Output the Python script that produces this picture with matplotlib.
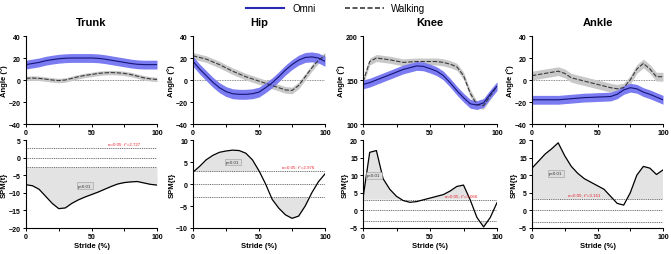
import numpy as np
import matplotlib.pyplot as plt

plt.rcParams['font.family'] = ['Liberation Sans', 'DejaVu Sans']

joints = ['Trunk', 'Hip', 'Knee', 'Ankle']
stride = [0, 5, 10, 15, 20, 25, 30, 35, 40, 45, 50, 55, 60, 65, 70, 75, 80, 85, 90, 95, 100]

# joint angles (deg), mean and band half-width
omni = {
    'Trunk': [14, 15, 16, 17.5, 18.5, 19.3, 19.8, 20, 20, 20, 20, 19.7, 19, 18, 17, 16, 15, 14.3, 14, 14, 14],
    'Hip': [17, 10, 4, -2, -7, -10.5, -12.5, -13, -13, -12.5, -11, -7, -2.5, 3, 9, 14, 18, 20.5, 21, 20, 17],
    'Knee': [145, 147, 150, 153, 156, 159, 162, 164, 166, 165.5, 163, 160, 155, 147, 138, 130, 123, 121.5, 124, 134, 143],
    'Ankle': [-18, -18, -18, -18, -18, -17.5, -17, -16.5, -16, -15.8, -15.5, -15.3, -15, -13, -9, -7, -8, -11, -13, -15.5, -18],
}
omni_sd = {'Trunk': 4, 'Hip': 4.5, 'Knee': 5, 'Ankle': 4}
walking = {
    'Trunk': [1.5, 1.8, 1.5, 0.8, 0, -0.5, 0, 1.5, 3, 4.2, 5, 6, 6.5, 6.8, 6.5, 6, 5, 3.5, 2, 1, 0.5],
    'Hip': [22, 20.5, 19, 16.5, 14, 11, 8, 5.5, 3, 1, -1, -3, -5, -7, -9, -9.5, -5, 3, 11, 18, 22],
    'Knee': [148, 171, 175, 174, 173, 171.5, 170, 170.5, 171, 171, 171, 171, 170, 168, 165, 155, 135, 122, 121, 132, 143],
    'Ankle': [4, 5, 6, 7, 8, 6, 2, 0.5, -1, -2.5, -4, -5.5, -7, -8, -7, 0, 10, 15, 10, 3, 3],
}
walking_sd = {'Trunk': 2, 'Hip': 3, 'Knee': 4, 'Ankle': 4}

# SPM{t} curves and critical thresholds
spm = {
    'Trunk': [-7.7, -8, -9, -11, -13, -14.5, -14.3, -13, -12, -11.2, -10.5, -9.8, -9, -8.2, -7.5, -7.1, -6.9, -6.8, -7.2, -7.6, -7.8],
    'Hip': [2.7, 4, 5.5, 6.5, 7.2, 7.5, 7.7, 7.6, 7, 5.5, 3, 0, -3.5, -5.5, -7, -7.8, -7.3, -5, -2, 0.5, 2.3],
    'Knee': [3.5, 16.5, 17, 9, 6, 4, 2.8, 2.3, 2.5, 3, 3.5, 4, 4.5, 5.5, 6.8, 7.2, 3, -2, -4.7, -2, 2.2],
    'Ankle': [12, 14, 16, 17.5, 19.2, 15.5, 12.5, 10.5, 9, 8, 7, 6, 4, 2, 1.5, 5, 10, 12.5, 12, 10.2, 11.5],
}
tcrit = {'Trunk': 2.727, 'Hip': 2.976, 'Knee': 3.066, 'Ankle': 3.161}

top_lims = {'Trunk': (-40, 40), 'Hip': (-40, 40), 'Knee': (100, 200), 'Ankle': (-40, 40)}
top_ticks = {'Trunk': [-40, -20, 0, 20, 40], 'Hip': [-40, -20, 0, 20, 40],
             'Knee': [100, 150, 200], 'Ankle': [-40, -20, 0, 20, 40]}
bot_lims = {'Trunk': (-20, 5), 'Hip': (-10, 10), 'Knee': (-5, 20), 'Ankle': (-5, 20)}
p_pos = {'Trunk': (45, -8), 'Hip': (30, 5), 'Knee': (8, 10), 'Ankle': (18, 10.5)}
a_pos = {'Trunk': (75, 3.3), 'Hip': (80, 3.6), 'Knee': (73, 3.6), 'Ankle': (40, 3.8)}

W, H = 671, 255
lefts = [26, 193, 363, 532]
widths = [131, 132, 134, 131]

fig = plt.figure(figsize=(W / 100, H / 100), dpi=100)
x = np.array(stride)

def style(ax):
    for s in ['top', 'right']:
        ax.spines[s].set_visible(False)
    for s in ['left', 'bottom']:
        ax.spines[s].set_linewidth(0.8)
    ax.set_xlim(0, 100)
    ax.set_xticks([0, 50, 100])
    ax.set_xticks([25, 75], minor=True)
    ax.tick_params(labelsize=5, length=2.5, width=0.7, pad=1.2)
    ax.tick_params(which='minor', length=2.5, width=0.7)
    for lab in ax.get_xticklabels() + ax.get_yticklabels():
        lab.set_fontweight('bold')

for i, j in enumerate(joints):
    ax = fig.add_axes([lefts[i] / W, 1 - 125 / H, widths[i] / W, 88 / H])
    om = np.array(omni[j])
    wk = np.array(walking[j])
    ax.fill_between(x, wk - walking_sd[j], wk + walking_sd[j], color='#c8c8c8', lw=0)
    ax.fill_between(x, om - omni_sd[j], om + omni_sd[j], color='#7b7bf2', lw=0)
    ax.plot(x, wk, color='#3a3a3a', lw=0.8, ls=(0, (4, 1.5)))
    ax.plot(x, om, color='#14147a', lw=0.8)
    if j != 'Knee':
        ax.axhline(0, color='#666666', lw=0.6, ls=(0, (1, 1)), zorder=0)
    ax.set_ylim(*top_lims[j])
    ax.set_yticks(top_ticks[j])
    style(ax)
    ax.set_ylabel('Angle (°)', fontsize=5.5, fontweight='bold', labelpad=0.5)
    ax.set_title(j, fontsize=8, fontweight='bold', pad=8)

    bx = fig.add_axes([lefts[i] / W, 1 - 229 / H, widths[i] / W, 88 / H])
    t = np.array(spm[j])
    tc = tcrit[j]
    bx.fill_between(x, t, tc, where=t > tc, interpolate=True, color='#e3e3e3', lw=0)
    bx.fill_between(x, t, -tc, where=t < -tc, interpolate=True, color='#e3e3e3', lw=0)
    bx.plot(x, t, color='black', lw=0.9)
    for yv in (tc, -tc, 0):
        bx.axhline(yv, color='#555555', lw=0.6, ls=(0, (1.2, 1)), zorder=1)
    bx.set_ylim(*bot_lims[j])
    bx.set_yticks(np.arange(bot_lims[j][0], bot_lims[j][1] + 1, 5))
    style(bx)
    bx.set_ylabel('SPM{t}', fontsize=5.5, fontweight='bold', labelpad=0.5)
    bx.set_xlabel('Stride (%)', fontsize=5.5, fontweight='bold', labelpad=1)
    px, py = p_pos[j]
    bx.text(px, py, 'p<0.01', fontsize=3.2, ha='center', va='center', color='#333333',
            bbox=dict(boxstyle='square,pad=0.3', fc='#dddddd', ec='#999999', lw=0.4))
    axx, ay = a_pos[j]
    bx.text(axx, ay, 'α=0.05; t*=%.3f' % tc, fontsize=3.2, ha='center', va='bottom', color='#e8202a')

leg_ax = fig.add_axes([0, 0.94, 1, 0.06])
leg_ax.axis('off')
h1, = leg_ax.plot([], [], color='#2a2ab0', lw=1.5, label='Omni')
h2, = leg_ax.plot([], [], color='#3a3a3a', lw=1.2, ls=(0, (3, 1.5)), label='Walking')
leg_ax.legend(handles=[h1, h2], loc='center', ncol=2, frameon=False, fontsize=7,
              handlelength=4, columnspacing=3, bbox_to_anchor=(0.5, 0.4))

fig.savefig('out.png', dpi=100)
